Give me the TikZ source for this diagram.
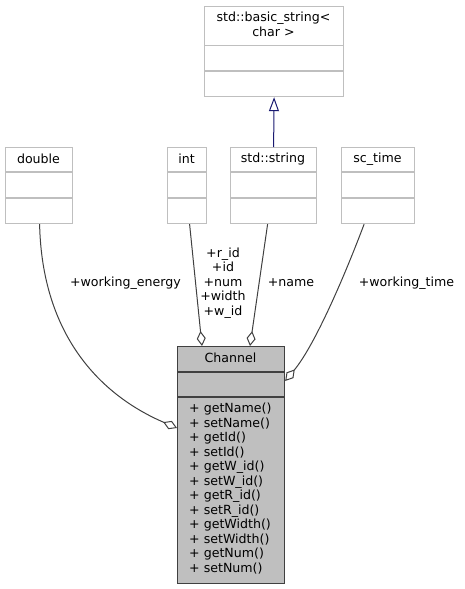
\documentclass[tikz,border=0pt]{standalone}
\usepackage{fontspec}
\setmainfont{DejaVu Sans}
\usetikzlibrary{arrows.meta,calc}
\definecolor{boxgray}{HTML}{BFBFBF}
\definecolor{edgegray}{HTML}{404040}
\definecolor{navyblue}{HTML}{191970}
\tikzset{
  cls/.style={draw=boxgray, line width=1.2pt, fill=white, rectangle, inner sep=0pt, anchor=north west},
  mainbox/.style={draw=edgegray, line width=1.2pt, fill=boxgray, rectangle, inner sep=0pt, anchor=north west},
  divline/.style={draw=boxgray, line width=1.2pt},
  maindiv/.style={draw=edgegray, line width=1.2pt},
  txt/.style={inner sep=0pt, font=\fontsize{12.6}{14.5}\selectfont},
  agg/.style={draw=edgegray, line width=1pt, -{Diamond[open,length=15pt,width=9pt]}},
  inh/.style={draw=navyblue, line width=1pt, -{Triangle[open,length=14pt,width=10pt]}}
}
\begin{document}
\begin{tikzpicture}[x=1pt,y=-1pt]
\useasboundingbox (0,0) rectangle (464,589);
% class boxes
\node[cls, minimum width=139pt, minimum height=90pt] (bstr) at (204,6) {};
\node[cls, minimum width=67pt, minimum height=76pt] (dbl) at (5,147) {};
\node[cls, minimum width=39pt, minimum height=76pt] (int) at (167,147) {};
\node[cls, minimum width=86pt, minimum height=76pt] (str) at (230,147) {};
\node[cls, minimum width=73pt, minimum height=76pt] (sct) at (341,147) {};
\node[mainbox, minimum width=107pt, minimum height=237pt] (ch) at (177,346) {};
% dividers
\draw[divline] (204,45.5) -- (343,45.5) (204,71) -- (343,71);
\foreach \a/\b in {5/72,167/206,230/316,341/414}{
  \draw[divline] (\a,172) -- (\b,172) (\a,198) -- (\b,198);
}
\draw[maindiv] (177,372) -- (284,372) (177,397) -- (284,397);
% titles
\node[txt] (tb1) at (273.5,18) {std::basic\_string<};
\node[txt] (tb2) at (273.5,32) {char >};
\node[txt] (td) at (38.5,159) {double};
\node[txt] (ti) at (186.5,159) {int};
\node[txt] (ts) at (273,159) {std::string};
\node[txt] (tt) at (377.5,159) {sc\_time};
\node[txt] (tc) at (230.5,358) {Channel};
\node[txt, anchor=north west, align=left] (tm) at (189,403) {+ getName()\\+ setName()\\+ getId()\\+ setId()\\+ getW\_id()\\+ setW\_id()\\+ getR\_id()\\+ setR\_id()\\+ getWidth()\\+ setWidth()\\+ getNum()\\+ setNum()};
% inheritance
\draw[inh] (str.north) -- (bstr.south);
% aggregations
\draw[agg] ($(dbl.south)+(0.5,0)$) .. controls (42,335) and (100,395) .. ($(ch.north west)+(0,82)$);
\draw[agg] ($(int.south)+(2.5,0)$) -- ($(ch.north west)+(25,0)$);
\draw[agg] ($(str.south)+(-6,0)$) -- ($(ch.north west)+(73,0)$);
\draw[agg] ($(sct.south)+(-14,0)$) .. controls (345,275) and (315,345) .. ($(ch.north east)+(0,35)$);
% edge labels
\node[txt] (lwe) at (125.5,283) {+working\_energy};
\node[txt, align=center] (lid) at (223,283) {+r\_id\\+id\\+num\\+width\\+w\_id};
\node[txt] (lnm) at (291,283) {+name};
\node[txt] (lwt) at (406.5,283) {+working\_time};
\end{tikzpicture}
\end{document}
